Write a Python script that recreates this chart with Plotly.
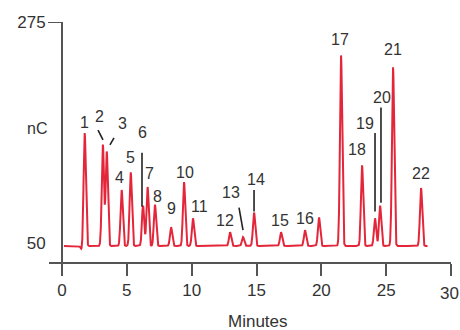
import numpy as np
import plotly.graph_objects as go

# ---- data ----
peak_labels = ["1", "2", "3", "4", "5", "6", "7", "8", "9", "10", "11",
               "12", "13", "14", "15", "16", "", "17", "18", "19", "20", "21", "22"]
peak_times = [1.75, 3.15, 3.45, 4.6, 5.3, 6.25, 6.6, 7.17, 8.41, 9.41, 10.1,
              12.96, 13.96, 14.81, 16.89, 18.74, 19.82, 21.52, 23.14, 24.14, 24.53, 25.53, 27.69]
peak_heights = [162, 150, 143, 104, 122, 88, 107, 89, 66, 112, 75,
                61, 56, 81, 61, 63, 76, 241, 129, 75, 88, 229, 106]

# system dip just before first peak
dip_time = [1.52]
dip_height = [43]

baseline = 47
run_start, run_end = 0.15, 28.2

# label positions (time, signal) for peak numbers
label_x = [1.70, 2.93, 4.63, 4.47, 5.32, 6.17, 6.71, 7.40, 8.41, 9.49, 10.64,
           12.57, 13.03, 14.96, 16.81, 18.74, None, 21.44, 22.75, 23.37, 24.68, 25.53, 27.69]
label_y = [173, 179, 172, 117, 137, 162, 121, 97, 85, 122, 87,
           73, 101, 115, 73, 75, None, 257, 145, 172, 198, 247, 121]

# leader lines: (x0, y0, x1, y1) in data units
leader_x0 = [2.78, 4.01, 6.17, 13.65, 14.81, 24.14, 24.60]
leader_y0 = [165, 157, 142, 86, 104, 162, 188]
leader_x1 = [3.16, 3.70, 6.17, 13.96, 14.81, 24.14, 24.60]
leader_y1 = [155, 150, 87, 63, 82, 82, 91]

x_ticks = [0, 5, 10, 15, 20, 25, 30]
y_ticks = [50, 275]

# ---- build trace from peak table ----
sigma = 0.085
t = np.arange(run_start, run_end, 0.01)
signal = np.full_like(t, float(baseline))
for pt, ph in zip(peak_times + dip_time, peak_heights + dip_height):
    signal += (ph - baseline) * np.exp(-0.5 * ((t - pt) / sigma) ** 2)

fig = go.Figure()
fig.add_trace(go.Scatter(x=t, y=signal, mode="lines",
                         line=dict(color="#e3263a", width=2),
                         hoverinfo="skip", showlegend=False))

text_col = "#333333"
fam = "Liberation Sans, Arial, sans-serif"
font = dict(family=fam, size=16, color=text_col)
tick_font = dict(family=fam, size=17, color=text_col)

for lab, lx, ly in zip(peak_labels, label_x, label_y):
    if lab:
        fig.add_annotation(x=lx, y=ly, text=lab, showarrow=False,
                           xref="x", yref="y", font=font)

for x0, y0, x1, y1 in zip(leader_x0, leader_y0, leader_x1, leader_y1):
    fig.add_shape(type="line", x0=x0, y0=y0, x1=x1, y1=y1, xref="x", yref="y",
                  line=dict(color="#222222", width=1.6))

# layout expressed in window pixels (page body margin removed via post_script)
W, H = 460, 330
PL, PR, PT, PB = 49, 451, 22, 262   # plot area
L, R, T, B = PL, W - PR, PT, H - PB
pw = PR - PL
ph_ = PB - PT
y_pos = (62 - PL) / pw

# visible tick at 275 only
fig.add_shape(type="line", xref="paper", yref="y", x0=(48 - PL) / pw, x1=y_pos,
              y0=275, y1=275, line=dict(color="#555555", width=2))

fig.add_annotation(text="nC", xref="paper", yref="paper", x=(37 - PL) / pw,
                   y=(PB - 128) / ph_, xanchor="center", yanchor="middle",
                   showarrow=False, font=font)
fig.add_annotation(text="Minutes", xref="paper", yref="paper", x=(258 - PL) / pw,
                   y=(PB - 321) / ph_, xanchor="center", yanchor="middle",
                   showarrow=False, font=dict(family=fam, size=17, color=text_col))

# last tick label sits against the right edge (drawn as annotation so it is not dropped)
x_ticktext = [str(v) for v in x_ticks[:-1]] + [""]
fig.add_annotation(text=str(x_ticks[-1]), xref="x", yref="paper", x=x_ticks[-1],
                   y=(PB - 293) / ph_, xanchor="center", yanchor="middle",
                   xshift=-2, showarrow=False, font=tick_font)

px_per_min = (451 - 62) / 30.0
x_left = (PL - 62) / px_per_min
y_top = 275
y_bottom = 275 - ph_ * 225 / 221.0

fig.update_layout(
    width=W, height=H,
    margin=dict(l=L, r=R, t=T, b=B, autoexpand=False),
    paper_bgcolor="white", plot_bgcolor="white",
    showlegend=False,
    xaxis=dict(range=[x_left, 30], tickvals=x_ticks, ticktext=x_ticktext,
               showgrid=False, zeroline=False, showline=True, linecolor="#555555", linewidth=2,
               ticks="outside", ticklen=12, tickwidth=2, tickcolor="#555555",
               tickfont=tick_font),
    yaxis=dict(range=[y_bottom, y_top], tickvals=y_ticks, ticktext=[str(v) for v in y_ticks],
               anchor="free", position=y_pos,
               showgrid=False, zeroline=False, showline=True, linecolor="#555555", linewidth=2,
               ticks="outside", ticklen=12, tickcolor="rgba(0,0,0,0)",
               tickfont=tick_font),
)

fig.write_html("out.html", config={"displayModeBar": False},
               post_script="document.body.style.margin='0';document.body.style.overflow='hidden';")
